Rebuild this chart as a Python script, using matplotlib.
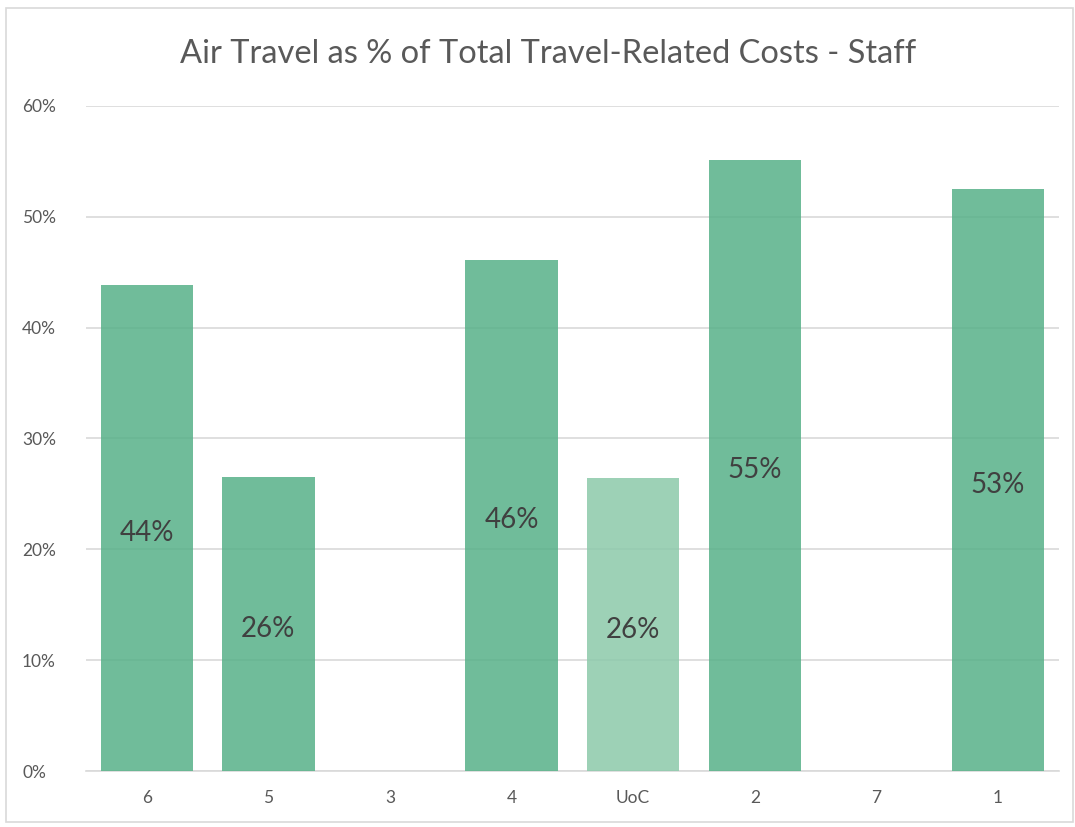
import matplotlib
matplotlib.use("Agg")
import matplotlib.pyplot as plt
from matplotlib.ticker import PercentFormatter, MultipleLocator
from matplotlib.patches import Rectangle

categories = ["6", "5", "3", "4", "UoC", "2", "7", "1"]
values = [43.8, 26.5, 0.0, 46.1, 26.4, 55.1, 0.0, 52.5]
labels = ["44%", "26%", "", "46%", "26%", "55%", "", "53%"]
title = "Air Travel as % of Total Travel-Related Costs - Staff"

plt.rcParams['font.family'] = ['Lato', 'DejaVu Sans']

fig = plt.figure(figsize=(10.75, 8.27), dpi=100)
fig.patch.set_facecolor("white")
fig.add_artist(Rectangle((0.006, 0.006), 0.992, 0.984, transform=fig.transFigure,
                         fill=False, edgecolor="#D9D9D9", linewidth=1.2))

ax = fig.add_axes([0.080, 0.0677, 0.905, 0.8043])
main_c = "#57B188"
uoc_c = "#8CC9AA"
colors = [uoc_c if c == "UoC" else main_c for c in categories]
x = list(range(len(categories)))
bars = ax.bar(x, values, width=0.76, color=colors, alpha=0.85, zorder=3)

for xi, v, lab in zip(x, values, labels):
    if lab:
        ax.annotate(lab, (xi, v / 2), xytext=(0, -3.5), textcoords="offset points",
                    ha="center", va="center", fontsize=20, color="#404040", zorder=4)

ax.set_ylim(0, 60)
ax.set_xlim(-0.5, len(categories) - 0.5)
ax.yaxis.set_major_locator(MultipleLocator(10))
ax.yaxis.set_major_formatter(PercentFormatter(decimals=0))
ax.set_xticks(x)
ax.set_xticklabels(categories)
ax.grid(axis="y", color="#D9D9D9", linewidth=1.2, zorder=0)
ax.set_axisbelow(True)
for s in ["top", "right", "left"]:
    ax.spines[s].set_visible(False)
ax.spines["bottom"].set_color("#D9D9D9")
ax.spines["bottom"].set_linewidth(1.2)
ax.tick_params(axis="both", length=0, colors="#595959", labelsize=12.5)
ax.tick_params(axis="x", pad=14)
ax.tick_params(axis="y", pad=46)
for t in ax.get_yticklabels():
    t.set_horizontalalignment("left")

fig.text(0.51, 0.935, title, ha="center", va="center", fontsize=23.5, color="#595959")

fig.savefig("out.png", dpi=100, facecolor="white")
